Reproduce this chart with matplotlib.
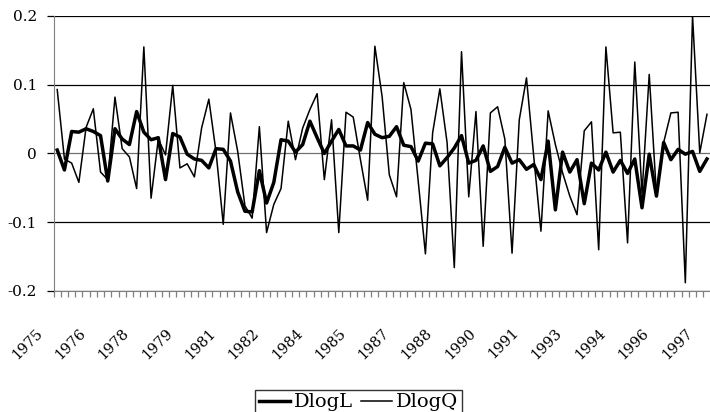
import numpy as np
import matplotlib
matplotlib.use("Agg")
import matplotlib.pyplot as plt
from matplotlib.transforms import ScaledTranslation

# quarterly growth rates, 1975Q1 onwards
dlogL = [0.005, -0.024, 0.032, 0.031, 0.036, 0.032, 0.026, -0.040, 0.036, 0.021,
         0.013, 0.061, 0.031, 0.020, 0.023, -0.038, 0.029, 0.024, -0.001, -0.008,
         -0.010, -0.021, 0.007, 0.006, -0.011, -0.056, -0.084, -0.085, -0.025, -0.072,
         -0.042, 0.020, 0.018, 0.002, 0.013, 0.047, 0.023, 0.000, 0.018, 0.035,
         0.011, 0.011, 0.005, 0.045, 0.028, 0.023, 0.025, 0.039, 0.012, 0.010,
         -0.011, 0.015, 0.014, -0.018, -0.006, 0.008, 0.026, -0.014, -0.010, 0.011,
         -0.026, -0.019, 0.009, -0.014, -0.009, -0.023, -0.016, -0.038, 0.018, -0.082,
         0.002, -0.027, -0.009, -0.073, -0.014, -0.024, 0.002, -0.027, -0.010, -0.029,
         -0.008, -0.079, -0.001, -0.062, 0.016, -0.009, 0.006, -0.001, 0.003, -0.026,
         -0.008]

dlogQ = [0.093, -0.008, -0.014, -0.042, 0.038, 0.065, -0.027, -0.038, 0.082, 0.007,
         -0.005, -0.051, 0.155, -0.065, 0.021, -0.002, 0.099, -0.021, -0.015, -0.034,
         0.037, 0.079, 0.002, -0.103, 0.059, 0.003, -0.076, -0.094, 0.039, -0.115,
         -0.074, -0.051, 0.047, -0.009, 0.037, 0.064, 0.087, -0.038, 0.049, -0.115,
         0.060, 0.053, -0.009, -0.068, 0.156, 0.083, -0.031, -0.063, 0.103, 0.064,
         -0.040, -0.146, 0.030, 0.094, 0.016, -0.166, 0.148, -0.063, 0.061, -0.135,
         0.059, 0.068, 0.021, -0.145, 0.049, 0.110, -0.004, -0.113, 0.062, 0.013,
         -0.028, -0.062, -0.089, 0.033, 0.046, -0.140, 0.155, 0.030, 0.031, -0.130,
         0.133, -0.058, 0.115, -0.060, 0.016, 0.059, 0.060, -0.188, 0.200, 0.001,
         0.057]

year_labels = ["1975", "1976", "1978", "1979", "1981", "1982", "1984", "1985",
               "1987", "1988", "1990", "1991", "1993", "1994", "1996", "1997"]
ytick_vals = [-0.2, -0.1, 0, 0.1, 0.2]
ytick_labels = ["-0.2", "-0.1", "0", "0.1", "0.2"]

plt.rcParams['font.family'] = ['DejaVu Serif']

fig = plt.figure(figsize=(7.10, 4.12), dpi=100)
# plot area runs past the right edge of the picture, as in the original
ax = fig.add_axes([0.0755, 0.2937, 0.9355, 0.6675])

x = np.arange(len(dlogL))
ax.plot(x, dlogL, color='black', lw=2.5, label='DlogL')
ax.plot(x, dlogQ, color='black', lw=1.1, label='DlogQ')

ax.set_xlim(-0.5, 91.5)
ax.set_ylim(-0.2, 0.2)

ax.set_yticks(ytick_vals)
ax.set_yticklabels(ytick_labels, fontsize=11)
ax.yaxis.grid(True, color='black', lw=0.9)
ax.yaxis.get_gridlines()[2].set_color('#707070')
ax.tick_params(axis='y', length=5, width=0.9, color='black', pad=7)

ax.set_xticks(np.arange(0, 6 * len(year_labels), 6))
ax.set_xticklabels(year_labels, fontsize=10.5, rotation=45, ha='right', va='top')
ax.set_xticks(np.arange(-0.5, 91.5, 1), minor=True)
ax.tick_params(axis='x', which='major', length=0, pad=25)
ax.tick_params(axis='x', which='minor', length=4.5, width=0.9, color='#808080')
shift = ScaledTranslation(-12 / 100, 0, fig.dpi_scale_trans)
for lab in ax.get_xticklabels():
    lab.set_transform(lab.get_transform() + shift)

for s in ['top', 'right']:
    ax.spines[s].set_visible(False)
ax.spines['left'].set_color('#808080')
ax.spines['bottom'].set_color('#808080')
ax.set_axisbelow(True)

leg = fig.legend(loc='upper center', bbox_to_anchor=(0.505, 0.078), ncol=2,
                 fontsize=14, frameon=True, fancybox=False, handlelength=1.6,
                 handletextpad=0.2, columnspacing=0.4, borderpad=0.2)
leg.get_frame().set_edgecolor('black')
leg.get_frame().set_linewidth(1.0)

fig.savefig('out.png', dpi=100)
